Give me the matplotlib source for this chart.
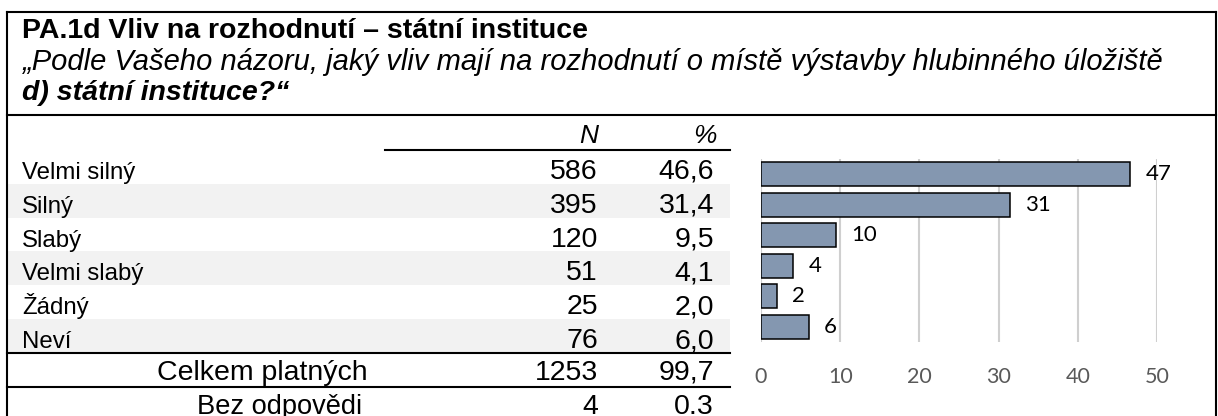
import matplotlib
matplotlib.use("Agg")
import matplotlib.pyplot as plt
from matplotlib.patches import Rectangle

# survey answers and their frequencies
categories = ["Velmi silný", "Silný", "Slabý", "Velmi slabý", "Žádný", "Neví"]
counts = [586, 395, 120, 51, 25, 76]
percents = [46.6, 31.4, 9.5, 4.1, 2.0, 6.0]
total_label = "Celkem platných"
total_n = 1253
total_pct = "99,7"
missing_label = "Bez odpovědi"
missing_n = 4
missing_pct = "0.3"
x_ticks = [0, 10, 20, 30, 40, 50]

title = "PA.1d Vliv na rozhodnutí – státní instituce"
question = "„Podle Vašeho názoru, jaký vliv mají na rozhodnutí o místě výstavby hlubinného úložiště"
question_item = "d) státní instituce?“"

W, H = 1218, 416
fig = plt.figure(figsize=(W / 100, H / 100), dpi=100)
fig.patch.set_facecolor("white")

# pixel-based canvas for the table part
ax0 = fig.add_axes([0, 0, 1, 1])
ax0.set_xlim(0, W)
ax0.set_ylim(H, 0)
ax0.axis("off")

arial = "Liberation Sans"
lw = 1.5

# outer frame
ax0.plot([7, 7], [H + 2, 12], color="black", lw=lw, solid_capstyle="projecting")
ax0.plot([7, 1216], [12, 12], color="black", lw=lw, solid_capstyle="projecting")
ax0.plot([1216, 1216], [12, H + 2], color="black", lw=lw, solid_capstyle="projecting")
ax0.plot([7, 1216], [115, 115], color="black", lw=lw)

ax0.text(22, 38, title, fontsize=20.5, fontweight="bold", family=arial, va="baseline")
ax0.text(22, 70, question, fontsize=21, style="italic", family=arial, va="baseline")
ax0.text(22, 100, question_item, fontsize=20.5, style="italic", fontweight="bold",
         family=arial, va="baseline")

# table rows
row_top = 150
row_h = 33.8
col_n = 598
col_pct = 714
tab_right = 730
num_fs = 20.5

ax0.text(col_n, 143, "N", fontsize=19, style="italic", family=arial, ha="right", va="baseline")
ax0.text(col_pct + 3, 143, "%", fontsize=19, style="italic", family=arial, ha="right", va="baseline")
ax0.plot([385, tab_right], [150, 150], color="black", lw=lw)

for i, (cat, n, p) in enumerate(zip(categories, counts, percents)):
    y0 = row_top + i * row_h
    if i % 2 == 1:
        ax0.add_patch(Rectangle((8, y0), tab_right - 8, row_h, color="#f2f2f2", lw=0, zorder=0))
    base = y0 + 29
    ax0.text(22, base, cat, fontsize=17.3, family=arial, va="baseline")
    ax0.text(col_n, base, str(n), fontsize=num_fs, family=arial, ha="right", va="baseline")
    ax0.text(col_pct, base, f"{p:.1f}".replace(".", ","), fontsize=num_fs, family=arial,
             ha="right", va="baseline")

y_tot = row_top + 6 * row_h
ax0.plot([7, tab_right], [y_tot, y_tot], color="black", lw=lw)
ax0.text(262, y_tot + 27, total_label, fontsize=20.5, family=arial, ha="center", va="baseline")
ax0.text(col_n, y_tot + 27, str(total_n), fontsize=num_fs, family=arial, ha="right", va="baseline")
ax0.text(col_pct, y_tot + 27, total_pct, fontsize=num_fs, family=arial, ha="right", va="baseline")

y_mis = y_tot + row_h
ax0.plot([7, tab_right], [y_mis, y_mis], color="black", lw=lw)
ax0.text(280, y_mis + 27, missing_label, fontsize=19.6, family=arial, ha="center", va="baseline")
ax0.text(col_n, y_mis + 27, str(missing_n), fontsize=num_fs, family=arial, ha="right", va="baseline")
ax0.text(col_pct, y_mis + 27, missing_pct, fontsize=num_fs, family=arial, ha="right", va="baseline")

# bar chart of the percentages
left, right, top, bottom = 761, 1157, 159, 342
ax = fig.add_axes([left / W, 1 - bottom / H, (right - left) / W, (bottom - top) / H])
ypos = list(range(len(categories)))
ax.barh(ypos, percents, height=0.79, color="#8497b0", edgecolor="black", linewidth=1.1, zorder=3)
for y, p in zip(ypos, percents):
    ax.annotate(f"{p:.0f}", (p, y), xytext=(11, 0), textcoords="offset points",
                va="center", ha="left", fontsize=16, family="Lato", color="black",
                annotation_clip=False, zorder=4)
ax.set_xlim(0, 50)
ax.set_ylim(len(categories) - 0.5, -0.5)
ax.set_xticks(x_ticks)
ax.set_yticks([])
ax.grid(axis="x", color="#cfcfcf", lw=1.5, zorder=0)
for s in ax.spines.values():
    s.set_visible(False)
ax.tick_params(axis="x", length=0, pad=18, labelsize=15.5, labelcolor="#595959")
for lbl in ax.get_xticklabels():
    lbl.set_family("Lato")
ax.patch.set_alpha(0)

fig.savefig("out.png", dpi=100, facecolor="white")
